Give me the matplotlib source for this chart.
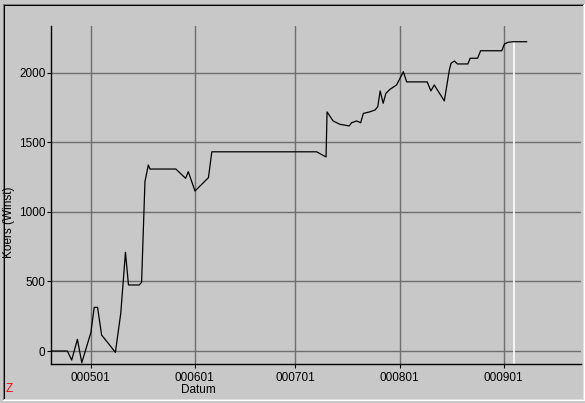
import matplotlib
matplotlib.use("Agg")
import matplotlib.pyplot as plt
from matplotlib.lines import Line2D

# ---- data (x = days since 2000-05-01, y = Koers (Winst)) ----
day_offsets = [-11.76, -6.9, -5.6, -3.9, -2.6, 0.1, 1.1, 2.1, 3.3, 5.3, 7.4, 9.0, 10.4, 11.3,
               14.5, 15.2, 16.2, 17.2, 17.7, 25.4, 28.3, 29.1, 31.1, 35.1, 36.1, 67.3, 70.1,
               70.4, 72.2, 74.2, 77.0, 77.7, 79.2, 80.4, 81.2, 83.2, 84.7, 85.5, 86.2, 87.1,
               87.9, 89.1, 91.1, 93.1, 94.1, 100.2, 101.3, 102.3, 105.3, 106.8, 107.3, 108.3,
               109.2, 112.3, 113.0, 115.2, 116.1, 122.4, 123.2, 124.3, 125.8, 129.8]
koers = [0, 0, -65, 84, -84, 132, 314, 314, 115, 55, -10, 271, 710, 475,
         475, 494, 1218, 1338, 1309, 1309, 1242, 1290, 1151, 1247, 1433, 1433, 1396,
         1720, 1655, 1631, 1619, 1642, 1655, 1642, 1709, 1721, 1734, 1758, 1871, 1782,
         1853, 1882, 1914, 2009, 1936, 1936, 1871, 1914, 1799, 2022, 2070, 2086,
         2065, 2065, 2106, 2106, 2160, 2160, 2209, 2221, 2225, 2225]
marker_day = 126.1
marker_value = 2225

tick_days = [0, 31, 61, 92, 123]
tick_labels = ["000501", "000601", "000701", "000801", "000901"]
y_ticks = [0, 500, 1000, 1500, 2000]

BG = "#c8c8c8"
GRID = "#6e6e6e"
FONT = "Liberation Sans"

W, H = 585, 403
fig = plt.figure(figsize=(W / 100, H / 100), dpi=100, facecolor=BG)

def fx(px):
    return px / W

def fy(py):
    return 1 - py / H

ax = fig.add_axes([fx(51), fy(364), fx(581) - fx(51), fy(26) - fy(364)])
ax.set_facecolor(BG)
ax.set_xlim(-11.76, 145.98)
ax.set_ylim(-93.5, 2338)

ax.set_xticks(tick_days)
ax.set_xticklabels(tick_labels)
ax.set_yticks(y_ticks)
ax.set_yticklabels([str(v) for v in y_ticks])

ax.grid(True, color=GRID, linewidth=1.0, zorder=1)
ax.set_axisbelow(True)

for s in ("top", "right"):
    ax.spines[s].set_visible(False)
for s in ("left", "bottom"):
    ax.spines[s].set_color("black")
    ax.spines[s].set_linewidth(1.0)

ax.tick_params(axis="y", direction="out", length=3, width=0.8, pad=1,
               labelsize=8.5, colors="black")
ax.tick_params(axis="x", direction="out", length=3, width=0.8, pad=3,
               labelsize=8.5, colors="black")
for lab in ax.get_xticklabels() + ax.get_yticklabels():
    lab.set_family(FONT)

# today marker
ax.vlines(marker_day, -93.5, marker_value, color="white", linewidth=1.2, zorder=2)

ax.plot(day_offsets, koers, color="black", linewidth=0.9, zorder=3)

# axis titles
fig.text(fx(198), fy(390), "Datum", ha="center", va="center",
         fontsize=8.5, family=FONT)
fig.text(fx(9), fy(222), "Koers (Winst)", ha="center", va="center",
         rotation=90, fontsize=8.5, family=FONT)
fig.text(fx(9), fy(389), "Z", ha="center", va="center", color="red",
         fontsize=8.5, family=FONT)

# sunken frame
def fline(x0, y0, x1, y1, color):
    fig.add_artist(Line2D([fx(x0), fx(x1)], [fy(y0), fy(y1)], color=color,
                          linewidth=0.75, transform=fig.transFigure))

fline(2.5, 3.5, 583.5, 3.5, "#808080")
fline(2.5, 3.5, 2.5, 399.5, "#808080")
fline(3.5, 4.5, 582.5, 4.5, "black")
fline(3.5, 4.5, 3.5, 398.5, "black")
fline(2.5, 399.5, 583.5, 399.5, "white")
fline(583.5, 3.5, 583.5, 399.5, "white")
fline(3.5, 398.5, 582.5, 398.5, "#e0e0e0")
fline(582.5, 4.5, 582.5, 398.5, "#e0e0e0")

fig.savefig("out.png", dpi=100, facecolor=BG)
